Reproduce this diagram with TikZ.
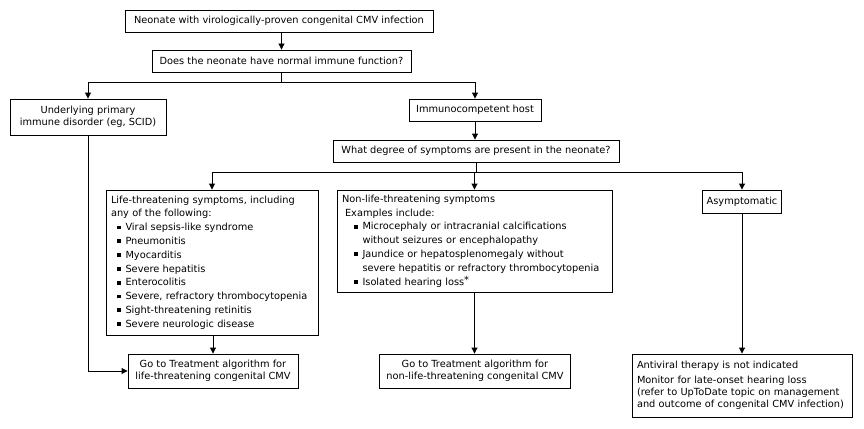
\documentclass[tikz,border=0pt]{standalone}
\usepackage{fontspec}
\setmainfont{DejaVu Sans}
\usetikzlibrary{arrows.meta}
\newcommand\bul{\hspace*{6pt}\makebox[8.5pt][l]{\raisebox{1.3pt}{\rule{3.8pt}{3.8pt}}}}
\newcommand\cnt{\hspace*{14.5pt}}
\begin{document}
\begin{tikzpicture}[x=1pt,y=-1pt,
  box/.style={draw, line width=0.9pt, inner xsep=4pt, inner ysep=0pt,
    font=\fontsize{9.8}{13.8}\selectfont, align=center},
  lbox/.style={box, align=left, inner xsep=5pt},
  arr/.style={line width=0.9pt, -{Triangle[length=6pt,width=6pt]}},
  ln/.style={line width=0.9pt}]
\useasboundingbox (0,0) rectangle (864,428);

\node[box, minimum width=308pt, minimum height=22pt] (b1) at (279,21)
  {Neonate with virologically-proven congenital CMV infection};
\node[box, minimum width=259pt, minimum height=22pt] (b2) at (281.5,61)
  {Does the neonate have normal immune function?};
\node[box, minimum width=156pt, minimum height=36pt, font=\fontsize{9.8}{12.5}\selectfont] (b3) at (88,117)
  {Underlying primary\\immune disorder (eg, SCID)};
\node[box, minimum width=132pt, minimum height=22pt] (b4) at (475,110)
  {Immunocompetent host};
\node[box, minimum width=286pt, minimum height=22pt] (b5) at (476,151)
  {What degree of symptoms are present in the neonate?};
\node[lbox, text width=202pt, minimum height=145pt] (b6) at (212,262.5)
  {Life-threatening symptoms, including\\
   any of the following:\\
   \bul Viral sepsis-like syndrome\\
   \bul Pneumonitis\\
   \bul Myocarditis\\
   \bul Severe hepatitis\\
   \bul Enterocolitis\\
   \bul Severe, refractory thrombocytopenia\\
   \bul Sight-threatening retinitis\\
   \bul Severe neurologic disease};
\node[lbox, text width=265pt, minimum height=102pt] (b7) at (474.5,241)
  {Non-life-threatening symptoms\\
   \hspace*{3pt}Examples include:\\
   \hspace*{6pt}\bul Microcephaly or intracranial calcifications\\
   \hspace*{6pt}\cnt without seizures or encephalopathy\\
   \hspace*{6pt}\bul Jaundice or hepatosplenomegaly without\\
   \hspace*{6pt}\cnt severe hepatitis or refractory thrombocytopenia\\
   \hspace*{6pt}\bul Isolated hearing loss\raisebox{1.5pt}{*}};
\node[box, minimum width=76pt, minimum height=23pt] (b8) at (742,201.5)
  {Asymptomatic};
\node[box, minimum width=170pt, minimum height=34pt, font=\fontsize{9.8}{12.5}\selectfont] (b9) at (213,371)
  {Go to Treatment algorithm for\\life-threatening congenital CMV};
\node[box, minimum width=191pt, minimum height=34pt, font=\fontsize{9.8}{12.5}\selectfont] (b10) at (475,371)
  {Go to Treatment algorithm for\\non-life-threatening congenital CMV};
\node[lbox, text width=210pt, minimum height=63pt, font=\fontsize{9.8}{12}\selectfont] (b11) at (742,385.5)
  {Antiviral therapy is not indicated\\[3pt]
   Monitor for late-onset hearing loss\\
   (refer to UpToDate topic on management\\
   and outcome of congenital CMV infection)};

\coordinate (s1) at (281.5,82);
\coordinate (s2) at (476,172);

\draw[arr] (b1.south -| b2.north) -- (b2.north);
\draw[ln] (b2.south) -- (s1);
\draw[arr] (s1) -| (b3.north);
\draw[arr] (s1) -| (b4.north);
\draw[arr] (b4.south) -- (b4.south |- b5.north);
\draw[ln] (b5.south) -- (s2);
\draw[arr] (s2) -| (b6.north);
\draw[arr] (s2) -| (b7.north);
\draw[arr] (s2) -| (b8.north);
\draw[arr] (b6.south -| b9.north) -- (b9.north);
\draw[arr] (b7.south) -- (b7.south |- b10.north);
\draw[arr] (b8.south) -- (b11.north);
\draw[arr] (b3.south) |- (b9.west);
\end{tikzpicture}
\end{document}
